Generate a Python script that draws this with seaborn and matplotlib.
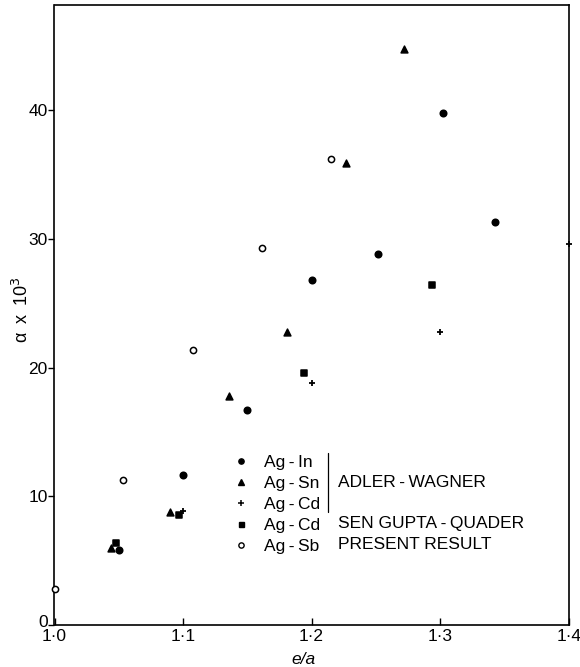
import matplotlib
matplotlib.use("Agg")
import matplotlib.pyplot as plt
import matplotlib.transforms as mtransforms
import seaborn as sns
import pandas as pd
from matplotlib.lines import Line2D

# ---- data ----
in_x = [1.050, 1.100, 1.150, 1.200, 1.252, 1.302, 1.343]
in_y = [5.85, 11.7, 16.7, 26.8, 28.85, 39.8, 31.3]

sn_x = [1.044, 1.090, 1.1355, 1.181, 1.227, 1.272]
sn_y = [6.0, 8.75, 17.8, 22.8, 35.9, 44.8]

cd_aw_x = [1.100, 1.200, 1.300, 1.400]
cd_aw_y = [8.9, 18.8, 22.8, 29.6]

cd_sg_x = [1.048, 1.097, 1.194, 1.294]
cd_sg_y = [6.4, 8.55, 19.6, 26.4]

sb_x = [1.000, 1.0535, 1.1075, 1.1615, 1.2154]
sb_y = [2.8, 11.3, 21.35, 29.3, 36.2]

x_ticks = [1.0, 1.1, 1.2, 1.3, 1.4]
x_ticklabels = ["1·0", "1·1", "1·2", "1·3", "1·4"]
y_ticks = [0, 10, 20, 30, 40]
y_ticklabels = ["0", "10", "20", "30", "40"]

labels = ["Ag\u2009-\u2009In", "Ag\u2009-\u2009Sn", "Ag\u2009-\u2009Cd", "Ag\u2009-\u2009Cd", "Ag\u2009-\u2009Sb"]
groups = ["ADLER\u2009-\u2009WAGNER", "SEN GUPTA\u2009-\u2009QUADER", "PRESENT RESULT"]

sns.set_style("ticks")
plt.rcParams["font.family"] = ["Liberation Sans", "DejaVu Sans"]
plt.rcParams["text.color"] = "black"
plt.rcParams["axes.labelcolor"] = "black"
plt.rcParams["xtick.color"] = "black"
plt.rcParams["ytick.color"] = "black"

W, H = 580, 667
FS = 12.5
fig = plt.figure(figsize=(5.8, 6.67), dpi=100)
ax = fig.add_axes([54.5 / W, 1 - 625 / H, (568.7 - 54.5) / W, (625 - 5) / H])

series = [
    (in_x, in_y, "o", "black", 22),
    (sn_x, sn_y, "^", "black", 24),
    (cd_aw_x, cd_aw_y, "+", "black", 25),
    (cd_sg_x, cd_sg_y, "s", "black", 20),
    (sb_x, sb_y, "o", "white", 20),
]
for x, y, m, fc, s in series:
    df = pd.DataFrame({"x": x, "y": y})
    if m == "+":
        sns.scatterplot(data=df, x="x", y="y", marker="+", s=s, color="black",
                        linewidth=1.3, ax=ax, clip_on=False, zorder=3)
    else:
        sns.scatterplot(data=df, x="x", y="y", marker=m, s=s, facecolor=fc,
                        edgecolor="black", linewidth=1.1, ax=ax, clip_on=False, zorder=3)

ax.set_xlim(1.0, 1.4)
ax.set_ylim(0, 48.2)
ax.set_xticks(x_ticks)
ax.set_xticklabels(x_ticklabels)
ax.set_yticks(y_ticks)
ax.set_yticklabels(y_ticklabels)
ax.tick_params(axis="x", direction="in", length=5, width=1, labelsize=FS, pad=3)
ax.tick_params(axis="y", direction="out", length=4, width=1, labelsize=FS, pad=1)
for sp in ax.spines.values():
    sp.set_visible(True)
    sp.set_linewidth(1.2)
    sp.set_color("black")
ax.set_xlabel("")
ax.set_ylabel("")

# lift the "0" label a little, as in the reference
zero_lbl = ax.get_yticklabels()[0]
zero_lbl.set_transform(zero_lbl.get_transform() +
                       mtransforms.ScaledTranslation(0, 4 / 100, fig.dpi_scale_trans))

fig.text(22 / W, 1 - 310 / H, "α\u2002x\u200210$^3$", rotation=90, ha="center", va="center",
         fontsize=13)
fig.text(303 / W, 1 - 659 / H, "e/a", style="italic", ha="center", va="center", fontsize=FS)

# legend
handles = [
    Line2D([], [], marker="o", ls="", color="black", markersize=3.8),
    Line2D([], [], marker="^", ls="", color="black", markersize=4),
    Line2D([], [], marker="+", ls="", color="black", markersize=5, markeredgewidth=1.1),
    Line2D([], [], marker="s", ls="", color="black", markersize=3.6),
    Line2D([], [], marker="o", ls="", markerfacecolor="white", markeredgecolor="black",
           markersize=3.8, markeredgewidth=1.0),
]
leg = ax.legend(handles, labels, loc="upper left", bbox_to_anchor=(234.5 / W, 1 - 455 / H),
                bbox_transform=fig.transFigure, frameon=False, fontsize=FS,
                handlelength=0.8, handletextpad=0.9, labelspacing=0.33, borderpad=0,
                borderaxespad=0)

fig.add_artist(Line2D([327.5 / W, 327.5 / W], [1 - 453 / H, 1 - 512 / H], color="black", lw=0.9))
for txt, yy in zip(groups, [482.5, 523.3, 544.3]):
    fig.text(338.5 / W, 1 - yy / H, txt, ha="left", va="center", fontsize=FS)

fig.savefig("out.png", dpi=100)
